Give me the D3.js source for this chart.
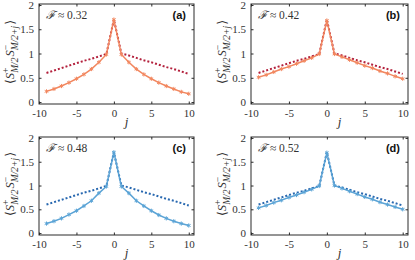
<!DOCTYPE html>
<html>
<head>
<meta charset="utf-8">
<script src="https://cdn.jsdelivr.net/npm/d3@7"></script>
<style>
  body { margin: 0; background: #fff; }
  svg { display: block; }
</style>
</head>
<body>
<svg id="chart" width="415" height="260"></svg>
<script>
// sites j relative to M/2
var js = [-9, -8, -7, -6, -5, -4, -3, -2, -1, 0, 1, 2, 3, 4, 5, 6, 7, 8, 9, 10];

// reference (dotted) correlations
var refCorr = [0.60, 0.65, 0.70, 0.75, 0.80, 0.85, 0.89, 0.94, 0.99, 1.70, 1.00, 0.96, 0.91, 0.86, 0.82, 0.77, 0.72, 0.68, 0.63, 0.58];

// solid curves, one per panel
var corrA = [0.22, 0.27, 0.33, 0.40, 0.48, 0.57, 0.68, 0.82, 0.98, 1.70, 0.98, 0.82, 0.68, 0.57, 0.48, 0.40, 0.33, 0.27, 0.21, 0.17];
var corrB = [0.51, 0.56, 0.62, 0.68, 0.73, 0.79, 0.85, 0.91, 0.99, 1.68, 0.99, 0.93, 0.87, 0.81, 0.75, 0.70, 0.64, 0.59, 0.53, 0.48];
var corrC = [0.20, 0.25, 0.31, 0.39, 0.47, 0.57, 0.68, 0.84, 0.98, 1.70, 0.98, 0.84, 0.68, 0.57, 0.47, 0.38, 0.31, 0.25, 0.20, 0.16];
var corrD = [0.53, 0.58, 0.64, 0.69, 0.75, 0.80, 0.86, 0.92, 0.99, 1.69, 1.00, 0.94, 0.88, 0.82, 0.76, 0.71, 0.65, 0.60, 0.55, 0.50];

var fidelities = ['0.32', '0.42', '0.48', '0.52'];
var panelTags = ['(a)', '(b)', '(c)', '(d)'];
var xTicks = [-10, -5, 0, 5, 10];
var yTicks = [0, 0.5, 1, 1.5, 2];

var panels = [
    {series: corrA, box: [39, 194, 4, 104], solid: '#f2875f', dotted: '#b3203c'},
    {series: corrB, box: [251, 408, 4, 104], solid: '#f2875f', dotted: '#b3203c'},
    {series: corrC, box: [39, 194, 137, 235], solid: '#5ba4d6', dotted: '#2868b0'},
    {series: corrD, box: [251, 408, 137, 235], solid: '#5ba4d6', dotted: '#2868b0'}
];

var svg = d3.select('#chart');
var serif = '"Liberation Serif", "DejaVu Serif", serif';
var frame = '#2b2b2b';

panels.forEach(function(p, i) {
    var b = p.box;
    var x = d3.scaleLinear().domain([-10, 10.7]).range([b[0], b[1]]);
    var y = d3.scaleLinear().domain([-0.04, 2.02]).range([b[3], b[2]]);
    var g = svg.append('g');

    var pts = js.map(function(j, k) { return {j: j, ref: refCorr[k], v: p.series[k]}; });

    // dotted reference
    g.append('path')
        .datum(pts)
        .attr('fill', 'none')
        .attr('stroke', p.dotted)
        .attr('stroke-width', 2)
        .attr('stroke-dasharray', '2 2')
        .attr('d', d3.line().x(function(d) { return x(d.j); }).y(function(d) { return y(d.ref); }));

    // solid data
    g.append('path')
        .datum(pts)
        .attr('fill', 'none')
        .attr('stroke', p.solid)
        .attr('stroke-width', 1.5)
        .attr('d', d3.line().x(function(d) { return x(d.j); }).y(function(d) { return y(d.v); }));

    var star = d3.symbol().type(d3.symbolAsterisk).size(12);
    g.selectAll('path.mk').data(pts).enter().append('path')
        .attr('class', 'mk')
        .attr('d', star)
        .attr('transform', function(d) { return 'translate(' + x(d.j) + ',' + y(d.v) + ')'; })
        .attr('fill', 'none')
        .attr('stroke', p.solid)
        .attr('stroke-width', 1);

    // axes, ticks inside and mirrored
    g.append('g').attr('transform', 'translate(0,' + b[3] + ')')
        .call(d3.axisBottom(x).tickValues(xTicks).tickSizeInner(-2.5).tickSizeOuter(0).tickPadding(5)
            .tickFormat(function(d) { return d < 0 ? '-' + Math.abs(d) : String(d); }));
    g.append('g').attr('transform', 'translate(' + b[0] + ',0)')
        .call(d3.axisLeft(y).tickValues(yTicks).tickSizeInner(-2.5).tickSizeOuter(0).tickPadding(5)
            .tickFormat(function(d) { return String(d); }));
    g.append('g').attr('transform', 'translate(0,' + b[2] + ')')
        .call(d3.axisTop(x).tickValues(xTicks).tickSizeInner(-2.5).tickSizeOuter(0).tickFormat(''));
    g.append('g').attr('transform', 'translate(' + b[1] + ',0)')
        .call(d3.axisRight(y).tickValues(yTicks).tickSizeInner(-2.5).tickSizeOuter(0).tickFormat(''));
    g.selectAll('.domain').remove();
    g.selectAll('.tick line').attr('stroke', frame);
    g.selectAll('.tick text')
        .attr('font-family', serif).attr('font-size', 11).attr('fill', '#333');

    g.append('rect')
        .attr('x', b[0]).attr('y', b[2])
        .attr('width', b[1] - b[0]).attr('height', b[3] - b[2])
        .attr('fill', 'none').attr('stroke', frame).attr('stroke-width', 1);

    // fidelity annotation
    var ann = g.append('text')
        .attr('x', b[0] + 7).attr('y', b[2] + 15)
        .attr('font-family', serif).attr('font-size', 11.5).attr('fill', '#333');
    ann.append('tspan').attr('font-style', 'italic').text('\u2131');
    ann.append('tspan').text(' \u2248 ' + fidelities[i]);

    g.append('text')
        .attr('x', b[1] - 8).attr('y', b[2] + 15)
        .attr('text-anchor', 'end')
        .attr('font-family', '"Liberation Sans", Arial, sans-serif')
        .attr('font-weight', 'bold').attr('font-size', 11).attr('fill', '#111')
        .text(panelTags[i]);

    // x label
    g.append('text')
        .attr('x', (b[0] + b[1]) / 2 + 10).attr('y', b[3] + 22)
        .attr('text-anchor', 'middle')
        .attr('font-family', serif).attr('font-style', 'italic').attr('font-size', 13).attr('fill', '#333')
        .text('j');

    // y label
    var yl = g.append('text')
        .attr('transform', 'translate(' + (b[0] - 25) + ',' + ((b[2] + b[3]) / 2 - 2) + ') rotate(-90)')
        .attr('text-anchor', 'middle')
        .attr('font-family', serif).attr('font-size', 12.5).attr('fill', '#333');
    yl.append('tspan').text('\u27E8');
    yl.append('tspan').attr('font-style', 'italic').text('S');
    yl.append('tspan').attr('font-size', 9.5).attr('dy', -5).text('+');
    yl.append('tspan').attr('font-size', 9.5).attr('font-style', 'italic').attr('dy', 8.5).attr('dx', -5.3).text('M/2');
    yl.append('tspan').attr('font-style', 'italic').attr('dy', -3.5).attr('dx', 1).text('S');
    yl.append('tspan').attr('font-size', 9.5).attr('dy', -5).text('\u2212');
    yl.append('tspan').attr('font-size', 9.5).attr('font-style', 'italic').attr('dy', 8.5).attr('dx', -5.3).text('M/2+j');
    yl.append('tspan').attr('dy', -3.5).attr('dx', 1).text('\u27E9');
});
</script>
</body>
</html>
